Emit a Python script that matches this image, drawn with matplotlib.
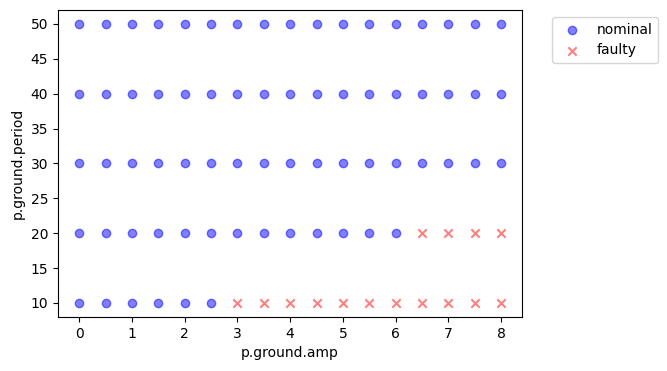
import matplotlib
matplotlib.use("Agg")
import matplotlib.pyplot as plt

# parameter sweep
amps = [0, 0.5, 1, 1.5, 2, 2.5, 3, 3.5, 4, 4.5, 5, 5.5, 6, 6.5, 7, 7.5, 8]
periods = [10, 20, 30, 40, 50]
# first amp value that turned out faulty for each period (None = all nominal)
faulty_from = {10: 3.0, 20: 6.5, 30: None, 40: None, 50: None}

nom_x, nom_y = [], []
bad_x, bad_y = [], []
for p in periods:
    for a in amps:
        start = faulty_from[p]
        if start is not None and a >= start:
            bad_x.append(a)
            bad_y.append(p)
        else:
            nom_x.append(a)
            nom_y.append(p)

fig = plt.figure(figsize=(6.67, 3.71), dpi=100)
ax = fig.add_axes([0.087, 0.146, 0.696, 0.827])
ax.scatter(nom_x, nom_y, c="blue", alpha=0.5, label="nominal")
ax.scatter(bad_x, bad_y, c="red", marker="x", alpha=0.5, label="faulty")
ax.set_xlabel("p.ground.amp")
ax.set_ylabel("p.ground.period")
ax.legend(bbox_to_anchor=(1.05, 1), loc="upper left")
fig.savefig("out.png", dpi=100)
